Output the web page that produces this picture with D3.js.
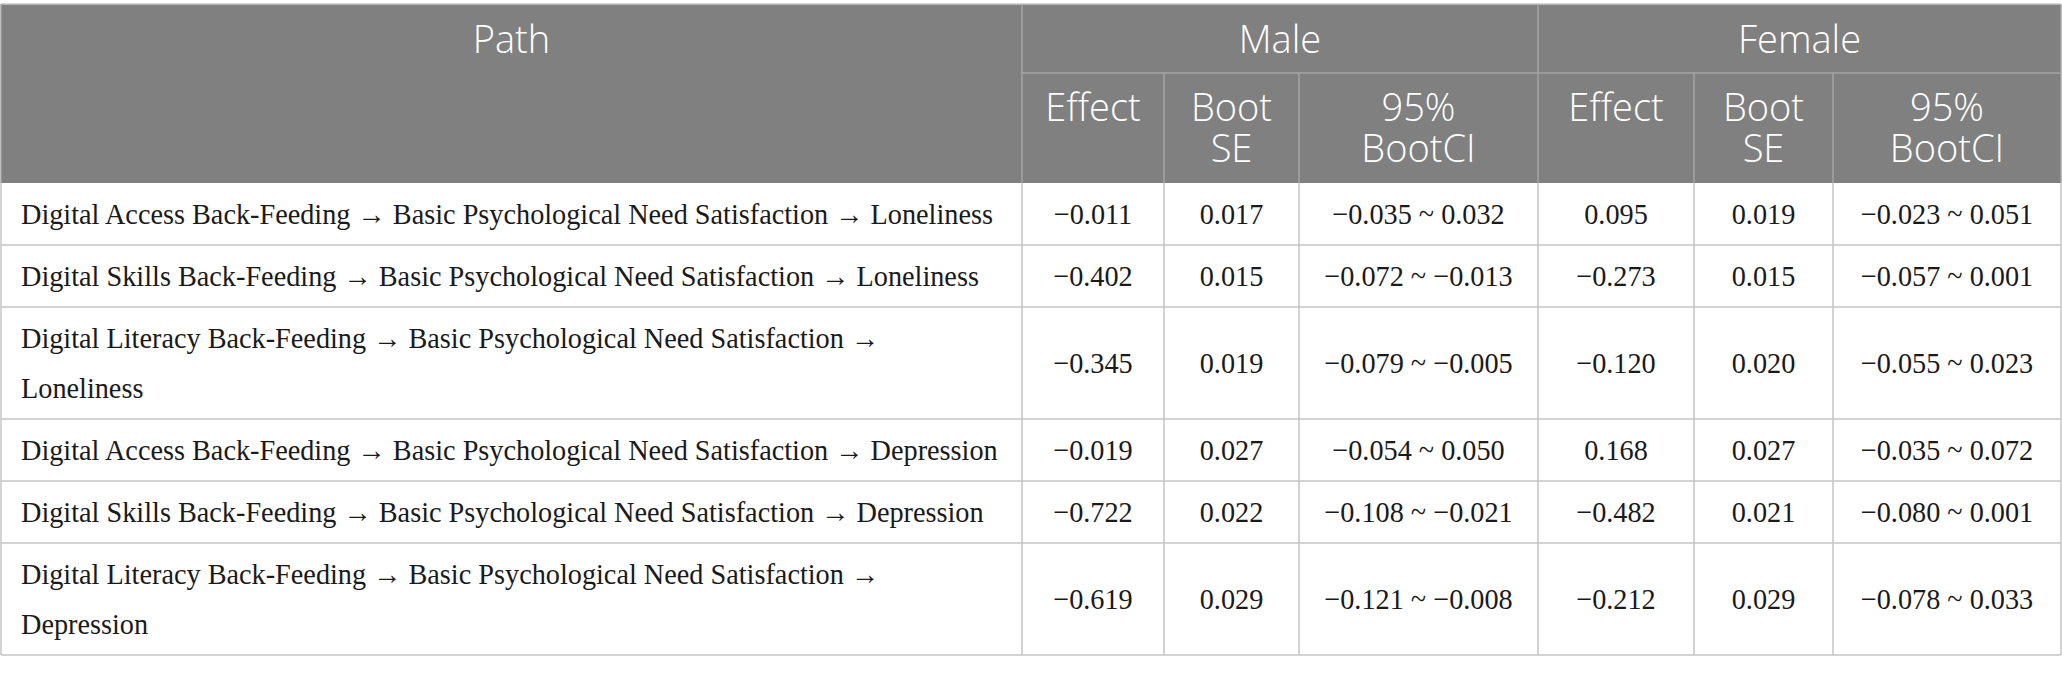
<!DOCTYPE html>
<html>
<head>
<meta charset="utf-8">
<script src="https://cdn.jsdelivr.net/npm/d3@7"></script>
<style>
  html, body { margin: 0; padding: 0; background: #fff; }
  svg { display: block; }
</style>
</head>
<body>
<div id="chart"></div>
<script>
// table content
const groups    = ['Male', 'Female'];
const subHeads  = [['Effect'], ['Boot', 'SE'], ['95%', 'BootCI']];
const paths = [
  'Digital Access Back-Feeding \u2192 Basic Psychological Need Satisfaction \u2192 Loneliness',
  'Digital Skills Back-Feeding \u2192 Basic Psychological Need Satisfaction \u2192 Loneliness',
  'Digital Literacy Back-Feeding \u2192 Basic Psychological Need Satisfaction \u2192 Loneliness',
  'Digital Access Back-Feeding \u2192 Basic Psychological Need Satisfaction \u2192 Depression',
  'Digital Skills Back-Feeding \u2192 Basic Psychological Need Satisfaction \u2192 Depression',
  'Digital Literacy Back-Feeding \u2192 Basic Psychological Need Satisfaction \u2192 Depression',
];
const maleEffect   = ['\u22120.011', '\u22120.402', '\u22120.345', '\u22120.019', '\u22120.722', '\u22120.619'];
const maleSE       = ['0.017', '0.015', '0.019', '0.027', '0.022', '0.029'];
const maleCI       = ['\u22120.035 ~ 0.032', '\u22120.072 ~ \u22120.013', '\u22120.079 ~ \u22120.005',
                      '\u22120.054 ~ 0.050', '\u22120.108 ~ \u22120.021', '\u22120.121 ~ \u22120.008'];
const femaleEffect = ['0.095', '\u22120.273', '\u22120.120', '0.168', '\u22120.482', '\u22120.212'];
const femaleSE     = ['0.019', '0.015', '0.020', '0.027', '0.021', '0.029'];
const femaleCI     = ['\u22120.023 ~ 0.051', '\u22120.057 ~ 0.001', '\u22120.055 ~ 0.023',
                      '\u22120.035 ~ 0.072', '\u22120.080 ~ 0.001', '\u22120.078 ~ 0.033'];

const W = 2062, H = 674;
const headFill = '#7f807f', headLine = '#a4a5a4', bodyLine = '#c4c4c4';
const serif = '"Liberation Serif", "DejaVu Serif", serif';
const sans  = '"Open Sans", "Noto Sans", sans-serif';

// column edges
const colEdges = [1, 1022, 1164, 1299, 1538, 1694, 1833, 2061];
const headTop = 4, groupBottom = 73, headBottom = 183;
const lineH = 50, rowPad = 12, textPad = 21;
const fontSize = 29.5;

const svg = d3.select('#chart').append('svg')
  .attr('width', W).attr('height', H);

// the reference serif is narrower than Liberation Serif: squeeze horizontally
const probe = svg.append('text').attr('font-family', serif).attr('font-size', fontSize)
  .text(paths[3]);
const sx = 977 / probe.node().getComputedTextLength();
probe.remove();

function wrap(str, maxW) {
  const words = str.split(' ');
  const t = svg.append('text').attr('font-family', serif).attr('font-size', fontSize);
  const lines = [];
  let cur = '';
  words.forEach(w => {
    const test = cur ? cur + ' ' + w : w;
    t.text(test);
    if (t.node().getComputedTextLength() * sx > maxW && cur) { lines.push(cur); cur = w; }
    else cur = test;
  });
  lines.push(cur);
  t.remove();
  return lines;
}

const pathLines = paths.map(p => wrap(p, colEdges[1] - colEdges[0] - textPad - 16));
const rowH = pathLines.map(l => rowPad + lineH * l.length);
const rowY = [];
rowH.reduce((y, h, i) => { rowY[i] = y; return y + h; }, headBottom);
const tableBottom = rowY[rowY.length - 1] + rowH[rowH.length - 1];

const xMid = i => (colEdges[i] + colEdges[i + 1]) / 2;

// header background
svg.append('rect').attr('x', colEdges[0]).attr('y', headTop)
  .attr('width', colEdges[7] - colEdges[0]).attr('height', headBottom - headTop)
  .attr('fill', headFill);

// header lines
const hl = svg.append('g').attr('stroke', headLine).attr('stroke-width', 1.5);
hl.append('line').attr('x1', colEdges[0]).attr('x2', colEdges[7]).attr('y1', headTop).attr('y2', headTop)
  .attr('stroke', '#c8c8c8');
hl.append('line').attr('x1', colEdges[1]).attr('x2', colEdges[7])
  .attr('y1', groupBottom).attr('y2', groupBottom);
[1, 4].forEach(i => hl.append('line').attr('x1', colEdges[i]).attr('x2', colEdges[i])
  .attr('y1', headTop).attr('y2', headBottom));
[2, 3, 5, 6].forEach(i => hl.append('line').attr('x1', colEdges[i]).attr('x2', colEdges[i])
  .attr('y1', groupBottom).attr('y2', headBottom));
[0, 7].forEach(i => hl.append('line').attr('x1', colEdges[i]).attr('x2', colEdges[i])
  .attr('y1', headTop).attr('y2', headBottom));

// header text
const ht = svg.append('g').attr('fill', '#fff').attr('font-family', sans)
  .attr('font-size', 38).attr('font-weight', 300).attr('text-anchor', 'middle');
ht.append('text').attr('x', xMid(0)).attr('y', 53).text('Path');
groups.forEach((g, gi) => {
  const a = colEdges[1 + gi * 3], b = colEdges[4 + gi * 3];
  ht.append('text').attr('x', (a + b) / 2).attr('y', 53).text(g);
  subHeads.forEach((lines, si) => {
    lines.forEach((l, li) => ht.append('text').attr('x', xMid(1 + gi * 3 + si))
      .attr('y', 121 + li * 41).text(l));
  });
});

// body grid
const bl = svg.append('g').attr('stroke', bodyLine).attr('stroke-width', 1.5);
rowY.forEach((y, i) => bl.append('line').attr('x1', colEdges[0]).attr('x2', colEdges[7])
  .attr('y1', y + rowH[i]).attr('y2', y + rowH[i]));
colEdges.forEach(x => bl.append('line').attr('x1', x).attr('x2', x)
  .attr('y1', headBottom).attr('y2', tableBottom));

// body text
const columns = [maleEffect, maleSE, maleCI, femaleEffect, femaleSE, femaleCI];
const bt = svg.append('g').attr('fill', '#1a1a1a').attr('font-family', serif)
  .attr('font-size', fontSize);

function squeezed(g, x, y, str, anchor) {
  g.append('text').attr('transform', `translate(${x},${y}) scale(${sx},1)`)
    .attr('text-anchor', anchor).text(str);
}

const rows = bt.selectAll('g.row').data(paths).join('g').attr('class', 'row');
rows.each(function (p, i) {
  const g = d3.select(this);
  const cy = rowY[i] + rowH[i] / 2;
  const lines = pathLines[i];
  lines.forEach((l, li) => squeezed(g, colEdges[0] + textPad - 1,
    cy + 10 - (lines.length - 1) * lineH / 2 + li * lineH, l, 'start'));
  columns.forEach((col, ci) => squeezed(g, xMid(ci + 1), cy + 10, col[i], 'middle'));
});
</script>
</body>
</html>
